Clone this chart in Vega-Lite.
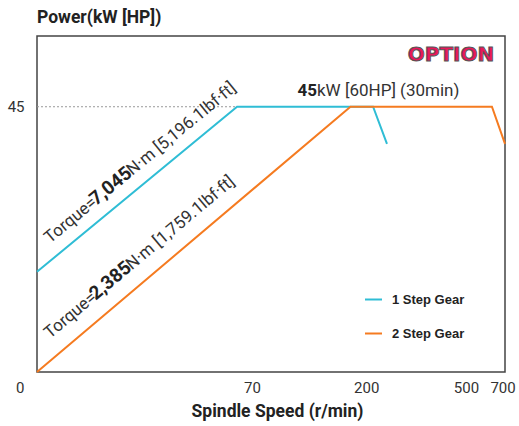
{
  "$schema": "https://vega.github.io/schema/vega-lite/v6.json",
  "width": 468,
  "height": 336,
  "autosize": "none",
  "padding": {"left": 37, "top": 36, "right": 14, "bottom": 54},
  "background": "white",
  "config": {"view": {"stroke": "#444", "strokeWidth": 1.5}},
  "title": {"text": "Power(kW [HP])", "anchor": "start", "frame": "group", "font": "Roboto", "fontSize": 17.5, "fontWeight": "bold", "color": "#222", "offset": 10},
  "datasets": {
    "curves": [
      {"gear": "1 Step Gear", "speed": 9.7, "power": 17},
      {"gear": "1 Step Gear", "speed": 61, "power": 45},
      {"gear": "1 Step Gear", "speed": 213, "power": 45},
      {"gear": "1 Step Gear", "speed": 242, "power": 38.7},
      {"gear": "2 Step Gear", "speed": 9.7, "power": 0},
      {"gear": "2 Step Gear", "speed": 173, "power": 45},
      {"gear": "2 Step Gear", "speed": 635, "power": 45},
      {"gear": "2 Step Gear", "speed": 716, "power": 38.7}
    ],
    "tickLines": [{"speed": 70}, {"speed": 200}, {"speed": 500}],
    "cornerLines": [{"speed": 61}, {"speed": 173}],
    "level": [{"speed": 9.7, "speed2": 61, "power": 45}],
    "cyanText": [{"speed": 10.94, "power": 21.74}],
    "orangeText": [{"speed": 10.94, "power": 5.6}],
    "ratedText": [{"speed": 127.2, "power": 47.72}],
    "badge": [{"speed": 435.8, "power": 53.83, "label": "OPTION"}]
  },
  "encoding": {
    "x": {
      "field": "speed", "type": "quantitative",
      "scale": {"type": "log", "domain": [9.7, 716], "nice": false, "zero": false},
      "axis": {
        "values": [70, 200, 500, 700], "grid": false, "ticks": false, "domain": false,
        "labelFont": "Roboto", "labelFontSize": 15, "labelColor": "#333", "labelPadding": 8,
        "title": "Spindle Speed (r/min)", "titleFont": "Roboto", "titleFontSize": 17.5, "titleFontWeight": "bold",
        "titleColor": "#222", "titlePadding": 7, "titleX": 240
      }
    },
    "y": {
      "field": "power", "type": "quantitative",
      "scale": {"domain": [0, 57], "nice": false, "zero": false},
      "axis": {
        "values": [0, 45], "grid": false, "ticks": false, "domain": false, "title": null,
        "labelFont": "Roboto", "labelFontSize": 15, "labelColor": "#333", "labelPadding": 13,
        "labelOffset": {"expr": "datum.value === 0 ? 15 : 0"}
      }
    }
  },
  "layer": [
    {
      "data": {"name": "tickLines"},
      "mark": {"type": "rule", "color": "#aaa", "strokeWidth": 1, "strokeDash": [2, 2]},
      "encoding": {"y": {"datum": 0}, "y2": {"datum": 57}}
    },
    {
      "data": {"name": "cornerLines"},
      "mark": {"type": "rule", "color": "#999", "strokeWidth": 1, "strokeDash": [3, 2]},
      "encoding": {"y": {"datum": 0}, "y2": {"datum": 45}}
    },
    {
      "data": {"name": "level"},
      "mark": {"type": "rule", "color": "#999", "strokeWidth": 1, "strokeDash": [2, 2]},
      "encoding": {"x2": {"field": "speed2"}}
    },
    {
      "data": {"name": "curves"},
      "mark": {"type": "line", "strokeWidth": 2},
      "encoding": {
        "color": {
          "field": "gear", "type": "nominal",
          "scale": {"domain": ["1 Step Gear", "2 Step Gear"], "range": ["#2fbdd5", "#f57b20"]},
          "legend": {
            "title": null, "orient": "none", "legendX": 315, "legendY": 242,
            "symbolType": "stroke", "symbolStrokeWidth": 2, "symbolSize": 289,
            "labelFont": "Liberation Sans", "labelFontWeight": "bold", "labelFontSize": 13, "labelColor": "#222",
            "labelOffset": 9, "fillColor": "white", "padding": 12, "rowPadding": 17
          }
        }
      }
    },
    {
      "data": {"name": "cyanText"},
      "mark": {"type": "text", "text": "Torque=", "font": "Roboto", "fontSize": 17, "color": "#333", "angle": -39.5, "align": "left", "baseline": "alphabetic"}
    },
    {
      "data": {"name": "cyanText"},
      "mark": {"type": "text", "text": "7,045", "font": "Roboto", "fontSize": 19, "fontWeight": "bold", "color": "#222", "angle": -39.5, "align": "left", "baseline": "alphabetic", "dx": 59.5}
    },
    {
      "data": {"name": "cyanText"},
      "mark": {"type": "text", "text": "N·m [5,196.1lbf·ft]", "font": "Roboto", "fontSize": 17, "color": "#333", "angle": -39.5, "align": "left", "baseline": "alphabetic", "dx": 106.5}
    },
    {
      "data": {"name": "orangeText"},
      "mark": {"type": "text", "text": "Torque=", "font": "Roboto", "fontSize": 17, "color": "#333", "angle": -40, "align": "left", "baseline": "alphabetic"}
    },
    {
      "data": {"name": "orangeText"},
      "mark": {"type": "text", "text": "2,385", "font": "Roboto", "fontSize": 19, "fontWeight": "bold", "color": "#222", "angle": -40, "align": "left", "baseline": "alphabetic", "dx": 59.5}
    },
    {
      "data": {"name": "orangeText"},
      "mark": {"type": "text", "text": "N·m [1,759.1lbf·ft]", "font": "Roboto", "fontSize": 17, "color": "#333", "angle": -40, "align": "left", "baseline": "alphabetic", "dx": 106.5}
    },
    {
      "data": {"name": "ratedText"},
      "mark": {"type": "text", "text": "45", "font": "Roboto", "fontSize": 17, "fontWeight": "bold", "color": "#222", "align": "right", "baseline": "middle"}
    },
    {
      "data": {"name": "ratedText"},
      "mark": {"type": "text", "text": "kW [60HP] (30min)", "font": "Roboto", "fontSize": 17, "color": "#333", "align": "left", "baseline": "middle"}
    },
    {
      "data": {"name": "badge"},
      "mark": {"type": "text", "font": "DejaVu Sans", "fontSize": 20, "fontWeight": "bold", "fill": "#e8185a", "stroke": "#555", "strokeWidth": 1, "align": "center", "baseline": "middle"},
      "encoding": {"text": {"field": "label"}}
    }
  ]
}
